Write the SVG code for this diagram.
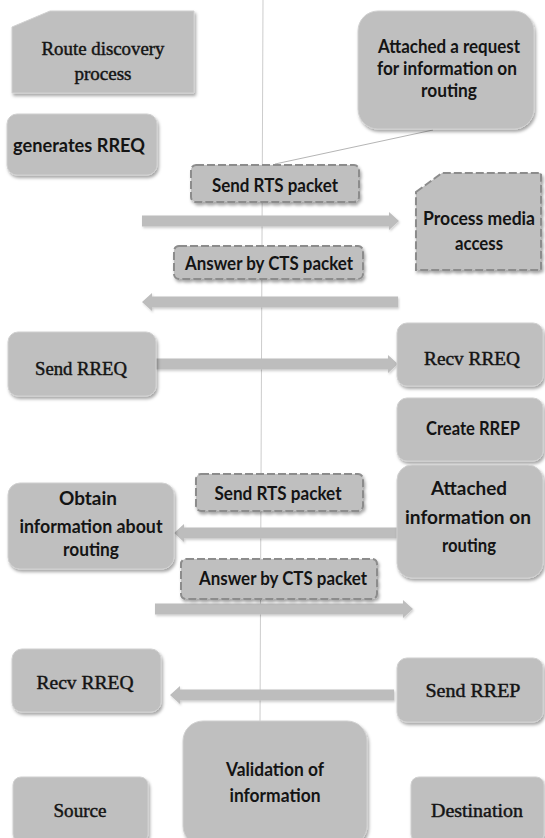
<svg xmlns="http://www.w3.org/2000/svg" width="545" height="838" viewBox="0 0 545 838">
<defs>
<filter id="sh" x="-10%" y="-10%" width="130%" height="140%">
<feDropShadow dx="1.5" dy="2.5" stdDeviation="1.8" flood-color="#000" flood-opacity="0.35"/>
</filter>
<filter id="sh2" x="-5%" y="-50%" width="110%" height="200%">
<feDropShadow dx="1" dy="1.5" stdDeviation="1.2" flood-color="#000" flood-opacity="0.2"/>
</filter>
<style>
.box{fill:#bfbfbf;stroke:#d0d0d0;stroke-width:1;filter:url(#sh)}
.dash{fill:#bfbfbf;stroke:#8c8c8c;stroke-width:2;stroke-dasharray:8 3;filter:url(#sh)}
.arrow{fill:#bdbdbd;filter:url(#sh2)}
.sans{font-family:Lato,"Liberation Sans",sans-serif;font-weight:bold;font-size:18px;fill:#141414;text-anchor:middle}
.serif{font-family:"Liberation Serif",serif;font-size:19px;fill:#141414;stroke:#141414;stroke-width:0.45;text-anchor:middle}
.thin{stroke:#cccccc;stroke-width:1;fill:none}
</style>
</defs>
<rect width="545" height="838" fill="#ffffff"/>
<g id="connectors">
<line class="thin" x1="263" y1="0" x2="260" y2="722"/>
<line x1="433" y1="130" x2="275" y2="164" stroke="#b5b5b5" stroke-width="1"/>
<path class="arrow" d="M142 215.5 L389 215.5 L389 212 L399 221 L389 230 L389 226.5 L142 226.5 Z"/>
<path class="arrow" d="M398 296.5 L152 296.5 L152 293 L142 302 L152 311 L152 307.5 L398 307.5 Z"/>
<path class="arrow" d="M156 358.5 L388 358.5 L388 355 L398 364 L388 373 L388 369.5 L156 369.5 Z"/>
<path class="arrow" d="M397 527.5 L184 527.5 L184 524 L174 533 L184 542 L184 538.5 L397 538.5 Z"/>
<path class="arrow" d="M155 603.5 L403 603.5 L403 600 L413 609 L403 618 L403 614.5 L155 614.5 Z"/>
<path class="arrow" d="M394 689.5 L180 689.5 L180 686 L170 695 L180 704 L180 700.5 L394 700.5 Z"/>
</g>
<g id="route-discovery">
<polygon class="box" points="12,27 50,11 194,11 194,93 12,93"/>
<text class="serif" x="103" y="55" textLength="123" lengthAdjust="spacingAndGlyphs">Route discovery</text>
<text class="serif" x="103" y="80" textLength="57" lengthAdjust="spacingAndGlyphs">process</text>
</g>
<g id="generates-rreq">
<rect class="box" x="7" y="114" width="150" height="61" rx="10"/>
<text class="sans" x="79" y="152" textLength="132" lengthAdjust="spacingAndGlyphs">generates RREQ</text>
</g>
<g id="attached-request">
<rect class="box" x="358" y="11" width="176" height="118" rx="20"/>
<text class="sans" x="449" y="53" textLength="142" lengthAdjust="spacingAndGlyphs">Attached a request</text>
<text class="sans" x="447" y="75" textLength="140" lengthAdjust="spacingAndGlyphs">for information on</text>
<text class="sans" x="449" y="97" textLength="56" lengthAdjust="spacingAndGlyphs">routing</text>
</g>
<g id="send-rts-1">
<rect class="dash" x="191" y="165" width="168" height="37" rx="5"/>
<text class="sans" x="275" y="192" textLength="126" lengthAdjust="spacingAndGlyphs">Send RTS packet</text>
</g>
<g id="process-media-access">
<polygon class="dash" points="416,192 442,173 541,173 541,270 416,270"/>
<text class="sans" x="479" y="225" textLength="112" lengthAdjust="spacingAndGlyphs">Process media</text>
<text class="sans" x="479" y="250" textLength="48" lengthAdjust="spacingAndGlyphs">access</text>
</g>
<g id="answer-cts-1">
<rect class="dash" x="174" y="246" width="189" height="33" rx="5"/>
<text class="sans" x="269" y="270" textLength="168" lengthAdjust="spacingAndGlyphs">Answer by CTS packet</text>
</g>
<g id="send-rreq">
<rect class="box" x="8" y="332" width="148" height="64" rx="10"/>
<text class="serif" x="81" y="375" textLength="92" lengthAdjust="spacingAndGlyphs">Send RREQ</text>
</g>
<g id="recv-rreq-dest">
<rect class="box" x="397" y="323" width="146" height="63" rx="10"/>
<text class="serif" x="472" y="365" textLength="96" lengthAdjust="spacingAndGlyphs">Recv RREQ</text>
</g>
<g id="create-rrep">
<rect class="box" x="397" y="398" width="146" height="63" rx="10"/>
<text class="sans" x="473" y="435" textLength="94" lengthAdjust="spacingAndGlyphs">Create RREP</text>
</g>
<g id="attached-information">
<rect class="box" x="397" y="465" width="146" height="113" rx="15"/>
<text class="sans" x="469" y="495" textLength="76" lengthAdjust="spacingAndGlyphs">Attached</text>
<text class="sans" x="468" y="524" textLength="126" lengthAdjust="spacingAndGlyphs">information on</text>
<text class="sans" x="469" y="552" textLength="54" lengthAdjust="spacingAndGlyphs">routing</text>
</g>
<g id="send-rts-2">
<rect class="dash" x="196" y="474" width="167" height="37" rx="5"/>
<text class="sans" x="278" y="500" textLength="127" lengthAdjust="spacingAndGlyphs">Send RTS packet</text>
</g>
<g id="obtain-information">
<rect class="box" x="8" y="483" width="166" height="86" rx="12"/>
<text class="sans" x="88" y="505" textLength="58" lengthAdjust="spacingAndGlyphs">Obtain</text>
<text class="sans" x="91" y="533" textLength="143" lengthAdjust="spacingAndGlyphs">information about</text>
<text class="sans" x="91" y="556" textLength="56" lengthAdjust="spacingAndGlyphs">routing</text>
</g>
<g id="answer-cts-2">
<rect class="dash" x="181" y="559" width="196" height="40" rx="5"/>
<text class="sans" x="283" y="585" textLength="168" lengthAdjust="spacingAndGlyphs">Answer by CTS packet</text>
</g>
<g id="recv-rreq-source">
<rect class="box" x="12" y="649" width="149" height="63" rx="10"/>
<text class="serif" x="85" y="689" textLength="97" lengthAdjust="spacingAndGlyphs">Recv RREQ</text>
</g>
<g id="send-rrep">
<rect class="box" x="397" y="658" width="146" height="64" rx="10"/>
<text class="serif" x="473" y="697" textLength="95" lengthAdjust="spacingAndGlyphs">Send RREP</text>
</g>
<g id="validation">
<rect class="box" x="183" y="721" width="184" height="125" rx="20"/>
<text class="sans" x="275" y="776" textLength="98" lengthAdjust="spacingAndGlyphs">Validation of</text>
<text class="sans" x="275" y="802" textLength="91" lengthAdjust="spacingAndGlyphs">information</text>
</g>
<g id="source">
<rect class="box" x="13" y="777" width="135" height="65" rx="8"/>
<text class="serif" x="80" y="817" textLength="53" lengthAdjust="spacingAndGlyphs">Source</text>
</g>
<g id="destination">
<rect class="box" x="411" y="777" width="133" height="65" rx="8"/>
<text class="serif" x="477" y="817" textLength="92" lengthAdjust="spacingAndGlyphs">Destination</text>
</g>
</svg>
